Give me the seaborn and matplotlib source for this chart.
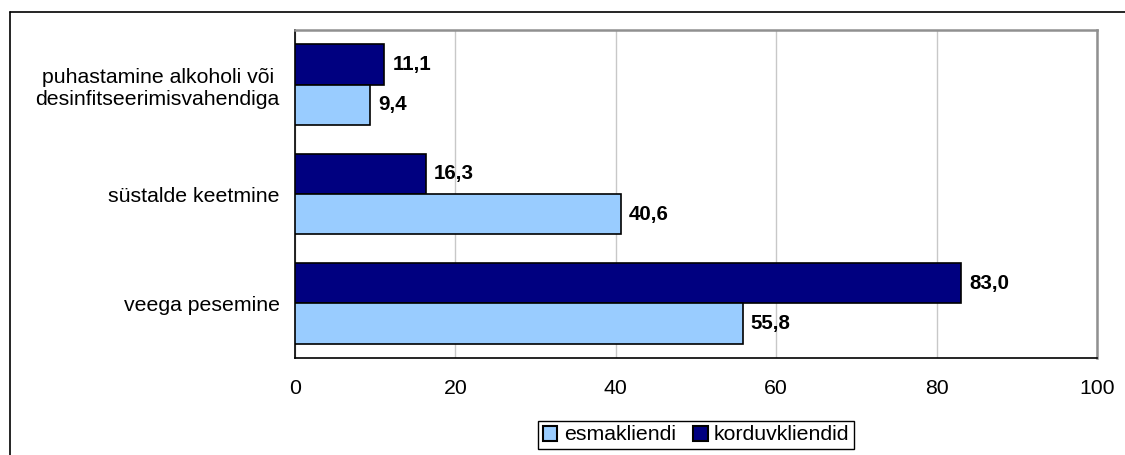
import pandas as pd
import seaborn as sns
import matplotlib.pyplot as plt
from matplotlib.patches import Patch
from matplotlib.lines import Line2D

categories = ["puhastamine alkoholi või\ndesinfitseerimisvahendiga",
              "süstalde keetmine",
              "veega pesemine"]
esmakliendi = [9.4, 40.6, 55.8]
korduvkliendid = [11.1, 16.3, 83.0]
series = ["korduvkliendid", "esmakliendi"]
colors = {"esmakliendi": "#99ccff", "korduvkliendid": "#000080"}
x_ticks = [0, 20, 40, 60, 80, 100]

df = pd.DataFrame({
    "kategooria": categories * 2,
    "grupp": ["korduvkliendid"] * 3 + ["esmakliendi"] * 3,
    "vaartus": korduvkliendid + esmakliendi,
})

sns.set_style("white")
plt.rcParams["font.family"] = ["Liberation Sans", "DejaVu Sans"]
plt.rcParams["text.color"] = "black"
plt.rcParams["xtick.color"] = "black"
plt.rcParams["ytick.color"] = "black"

fs = 15.3

fig = plt.figure(figsize=(11.25, 4.55), dpi=100)
ax = fig.add_axes([295 / 1125, 1 - 358 / 455, (1097 - 295) / 1125, (358 - 30) / 455])

sns.barplot(data=df, y="kategooria", x="vaartus", hue="grupp", hue_order=series,
            order=categories, palette=colors, orient="h", width=0.74,
            edgecolor="black", linewidth=1.2, saturation=1, ax=ax, legend=False, zorder=3)

for cont in ax.containers:
    labels = [f"{v:.1f}".replace(".", ",") for v in cont.datavalues]
    ax.bar_label(cont, labels=labels, padding=6, fontsize=14.8, fontweight="bold", color="black")

ax.set_xlim(0, 100)
ax.set_ylim(2.5, -0.5)
ax.set_xticks(x_ticks)
ax.set_xticklabels([str(t) for t in x_ticks], fontsize=fs)
ax.set_yticks([0, 1, 2])
ax.set_yticklabels(categories, fontsize=fs, multialignment="center")
ax.set_yticks([-0.5, 0.5, 1.5, 2.5], minor=True)
ax.tick_params(axis="y", which="major", length=0, pad=11)
ax.tick_params(axis="y", which="minor", length=5, width=1, color="black", direction="out")
ax.tick_params(axis="x", length=5, width=1, color="black", direction="out", pad=10)
ax.xaxis.grid(True, color="#c8c8c8", linewidth=1, zorder=0)
ax.yaxis.grid(False)
ax.set_xlabel("")
ax.set_ylabel("")

for side in ["left", "bottom"]:
    ax.spines[side].set_color("black")
    ax.spines[side].set_linewidth(1.2)
for side in ["top", "right"]:
    ax.spines[side].set_visible(True)
    ax.spines[side].set_color("#909090")
    ax.spines[side].set_linewidth(1.8)

handles = [Patch(facecolor=colors["esmakliendi"], edgecolor="black", linewidth=1.5, label="esmakliendi"),
           Patch(facecolor=colors["korduvkliendid"], edgecolor="black", linewidth=1.5, label="korduvkliendid")]
leg = fig.legend(handles=handles, loc="center", bbox_to_anchor=(696 / 1125, 1 - 435 / 455),
                 ncol=2, fontsize=fs, frameon=True, fancybox=False, edgecolor="black",
                 handlelength=0.7, handleheight=0.7, handletextpad=0.3, columnspacing=0.8,
                 borderpad=0.2, borderaxespad=0, framealpha=1)
leg.get_frame().set_linewidth(1.0)

# outer chart frame (cropped on right and bottom)
fig.add_artist(Line2D([10 / 1125, 1], [1 - 12 / 455, 1 - 12 / 455], color="black", linewidth=1.2))
fig.add_artist(Line2D([10 / 1125, 10 / 1125], [0, 1 - 12 / 455], color="black", linewidth=1.2))

fig.savefig("out.png", dpi=100)
